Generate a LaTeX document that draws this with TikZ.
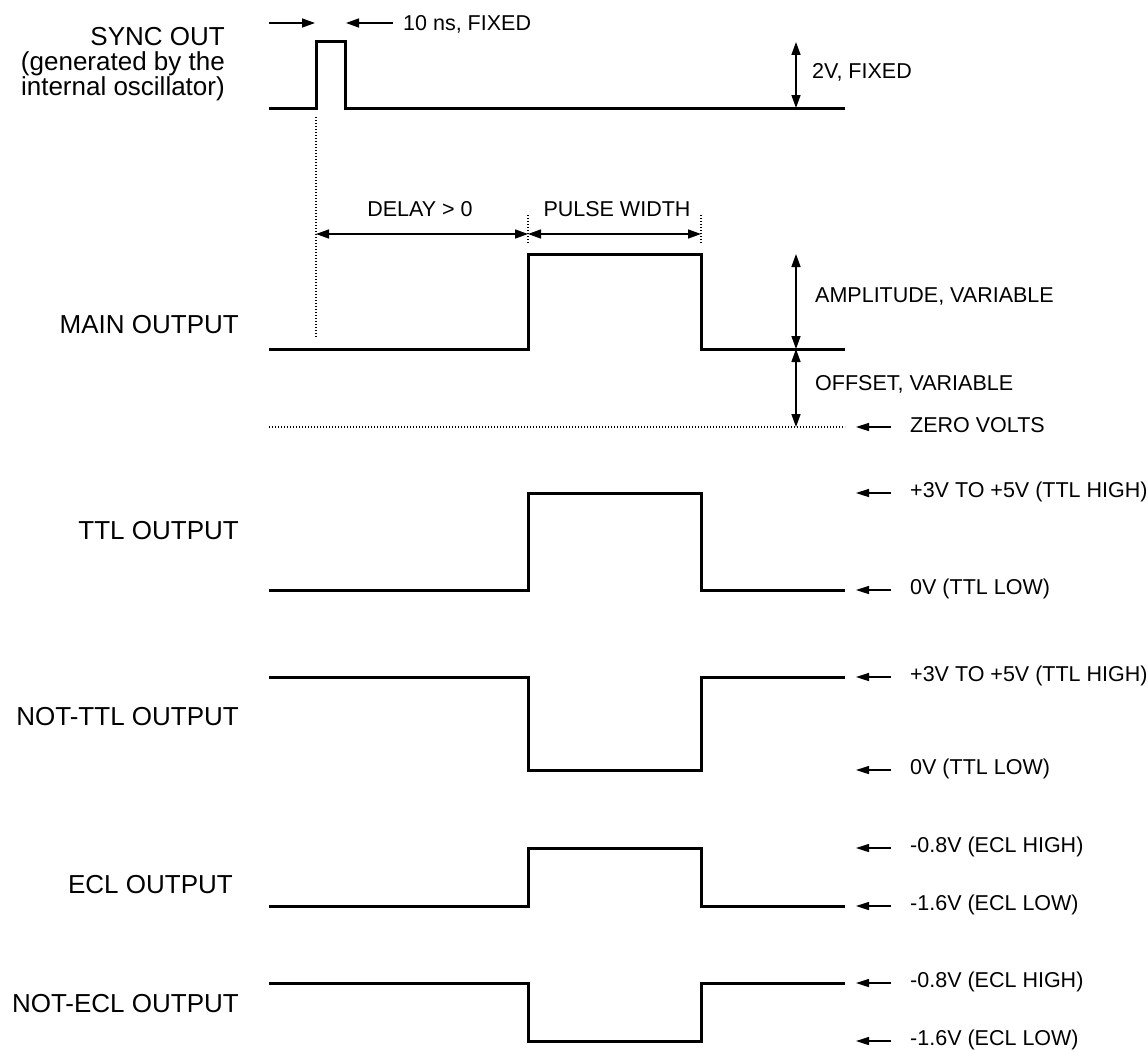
\documentclass[tikz,border=0pt]{standalone}
\usepackage{fontspec}
\setmainfont{Liberation Sans}
\usetikzlibrary{arrows.meta}
\begin{document}
\begin{tikzpicture}[x=1pt,y=-1pt,
  wave/.style={line width=3pt,line join=miter,line cap=butt},
  dimarrow/.style={line width=1.5pt,-{Triangle[length=13pt,width=9pt]}},
  dimboth/.style={line width=1.5pt,{Triangle[length=13pt,width=9pt]}-{Triangle[length=13pt,width=9pt]}},
  levarrow/.style={line width=1.6pt,-{Triangle[length=13pt,width=8pt]}},
  dotline/.style={line width=1.2pt,dash pattern=on 1.2pt off 1.8pt},
  biglabel/.style={font=\fontsize{26}{25}\selectfont,inner sep=0pt,anchor=east,align=right},
  smalllabel/.style={font=\fontsize{21.5}{24}\selectfont,inner sep=0pt,anchor=west}]
\useasboundingbox (0,0) rectangle (1148,1049);

% ---------- SYNC OUT ----------
\node[biglabel] (lsync) at (225,64) {SYNC OUT\\(generated by the\\internal oscillator)};
\coordinate (s0) at (269,108);
\coordinate (s1) at (316,108);
\coordinate (s2) at (316,42);
\coordinate (s3) at (345,42);
\coordinate (s4) at (345,108);
\coordinate (s5) at (845,108);
\draw[wave] (s0) -- (s1) -- (s2) -- (s3) -- (s4) -- (s5);
\coordinate (na0) at (269,23);
\coordinate (na1) at (315,23);
\coordinate (nb0) at (393,23);
\coordinate (nb1) at (346,23);
\draw[dimarrow] (na0) -- (na1);
\draw[dimarrow] (nb0) -- (nb1);
\node[smalllabel] (t10) at (403,24) {10 ns, FIXED};
\coordinate (v2a) at (796,42);
\coordinate (v2b) at (796,108);
\draw[dimboth] (v2a) -- (v2b);
\node[smalllabel] (t2v) at (812,72) {2V, FIXED};

% ---------- MAIN OUTPUT ----------
\node[biglabel] (lmain) at (239,325) {MAIN OUTPUT};
\coordinate (m0) at (269,349);
\coordinate (m1) at (528,349);
\coordinate (m2) at (528,254);
\coordinate (m3) at (701,254);
\coordinate (m4) at (701,349);
\coordinate (m5) at (845,349);
\draw[wave] (m0) -- (m1) -- (m2) -- (m3) -- (m4) -- (m5);
\coordinate (d0t) at (316,117);
\coordinate (d0b) at (316,338);
\draw[dotline] (d0t) -- (d0b);
\coordinate (d1t) at (528,215);
\coordinate (d1b) at (528,244);
\draw[dotline] (d1t) -- (d1b);
\coordinate (d2t) at (701,215);
\coordinate (d2b) at (701,244);
\draw[dotline] (d2t) -- (d2b);
\coordinate (dl0) at (316,234);
\coordinate (dl1) at (528,234);
\coordinate (dl2) at (701,234);
\draw[dimboth] (dl0) -- (dl1);
\draw[dimboth] (dl1) -- (dl2);
\node[font=\fontsize{21.5}{24}\selectfont,inner sep=0pt] (tdelay) at (420,209) {DELAY > 0};
\node[font=\fontsize{21.5}{24}\selectfont,inner sep=0pt] (tpw) at (617,209) {PULSE WIDTH};
\coordinate (am0) at (796,254);
\coordinate (am1) at (796,349);
\coordinate (am2) at (796,427);
\draw[dimboth] (am0) -- (am1);
\draw[dimboth] (am1) -- (am2);
\node[smalllabel] (tamp) at (815,296) {AMPLITUDE, VARIABLE};
\node[smalllabel] (toff) at (815,384) {OFFSET, VARIABLE};
\coordinate (z0) at (269,427);
\coordinate (z1) at (845,427);
\draw[dotline] (z0) -- (z1);
\coordinate (za0) at (891,427);
\coordinate (za1) at (856,427);
\draw[levarrow] (za0) -- (za1);
\node[smalllabel] (tzero) at (910,425) {ZERO VOLTS};

% ---------- TTL OUTPUT ----------
\node[biglabel] (lttl) at (239,531) {TTL OUTPUT};
\coordinate (t0) at (269,590);
\coordinate (t1) at (528,590);
\coordinate (t2) at (528,493);
\coordinate (t3) at (701,493);
\coordinate (t4) at (701,590);
\coordinate (t5) at (845,590);
\draw[wave] (t0) -- (t1) -- (t2) -- (t3) -- (t4) -- (t5);
\coordinate (ta0) at (891,493);
\coordinate (ta1) at (856,493);
\draw[levarrow] (ta0) -- (ta1);
\node[smalllabel] (tth) at (910,492) {+3V TO +5V (TTL HIGH)};
\coordinate (tb0) at (891,590);
\coordinate (tb1) at (856,590);
\draw[levarrow] (tb0) -- (tb1);
\node[smalllabel] (ttl) at (910,589) {0V (TTL LOW)};

% ---------- NOT-TTL OUTPUT ----------
\node[biglabel] (lnttl) at (239,717) {NOT-TTL OUTPUT};
\coordinate (n0) at (269,677);
\coordinate (n1) at (528,677);
\coordinate (n2) at (528,770);
\coordinate (n3) at (701,770);
\coordinate (n4) at (701,677);
\coordinate (n5) at (845,677);
\draw[wave] (n0) -- (n1) -- (n2) -- (n3) -- (n4) -- (n5);
\coordinate (nta0) at (891,677);
\coordinate (nta1) at (856,677);
\draw[levarrow] (nta0) -- (nta1);
\node[smalllabel] (ntth) at (910,676) {+3V TO +5V (TTL HIGH)};
\coordinate (ntb0) at (891,770);
\coordinate (ntb1) at (856,770);
\draw[levarrow] (ntb0) -- (ntb1);
\node[smalllabel] (ntl) at (910,769) {0V (TTL LOW)};

% ---------- ECL OUTPUT ----------
\node[biglabel] (lecl) at (233,885) {ECL OUTPUT};
\coordinate (e0) at (269,906);
\coordinate (e1) at (528,906);
\coordinate (e2) at (528,848);
\coordinate (e3) at (701,848);
\coordinate (e4) at (701,906);
\coordinate (e5) at (845,906);
\draw[wave] (e0) -- (e1) -- (e2) -- (e3) -- (e4) -- (e5);
\coordinate (ea0) at (891,848);
\coordinate (ea1) at (856,848);
\draw[levarrow] (ea0) -- (ea1);
\node[smalllabel] (eh) at (910,847) {-0.8V (ECL HIGH)};
\coordinate (eb0) at (891,906);
\coordinate (eb1) at (856,906);
\draw[levarrow] (eb0) -- (eb1);
\node[smalllabel] (el) at (910,905) {-1.6V (ECL LOW)};

% ---------- NOT-ECL OUTPUT ----------
\node[biglabel] (lnecl) at (239,1004) {NOT-ECL OUTPUT};
\coordinate (q0) at (269,983);
\coordinate (q1) at (528,983);
\coordinate (q2) at (528,1041);
\coordinate (q3) at (701,1041);
\coordinate (q4) at (701,983);
\coordinate (q5) at (845,983);
\draw[wave] (q0) -- (q1) -- (q2) -- (q3) -- (q4) -- (q5);
\coordinate (qa0) at (891,983);
\coordinate (qa1) at (856,983);
\draw[levarrow] (qa0) -- (qa1);
\node[smalllabel] (qh) at (910,982) {-0.8V (ECL HIGH)};
\coordinate (qb0) at (891,1041);
\coordinate (qb1) at (856,1041);
\draw[levarrow] (qb0) -- (qb1);
\node[smalllabel] (ql) at (910,1040) {-1.6V (ECL LOW)};
\end{tikzpicture}
\end{document}
